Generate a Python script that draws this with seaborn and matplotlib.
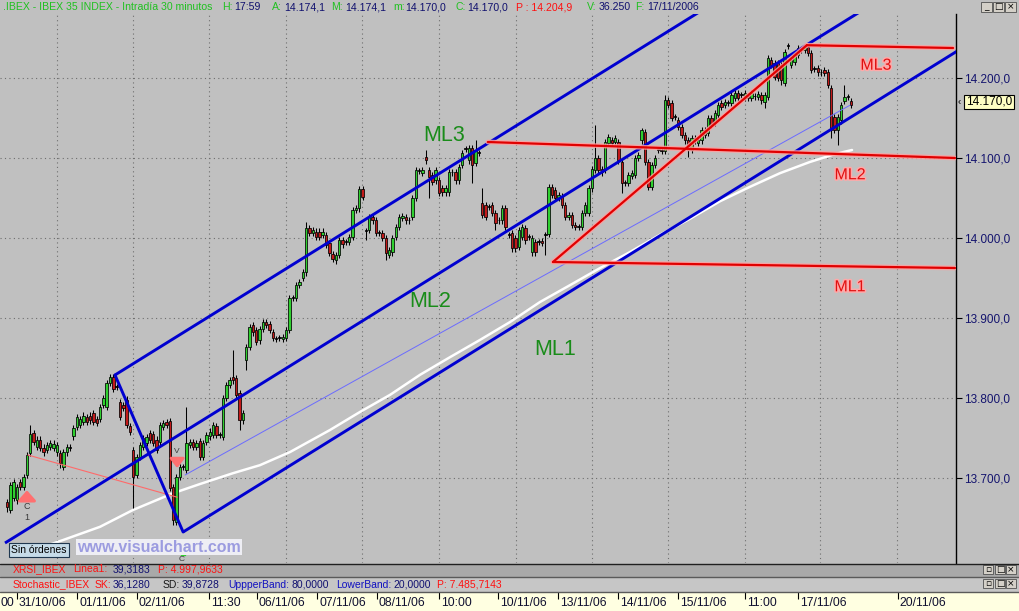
import numpy as np
import pandas as pd
import matplotlib
matplotlib.use("Agg")
import matplotlib.pyplot as plt
from matplotlib.patches import Rectangle
from matplotlib.lines import Line2D
import matplotlib.patheffects as pe
import seaborn as sns

# ---------------------------------------------------------------- data
opens = [
    13670, 13660, 13675, 13672, 13695, 13689, 13704, 13731, 13756, 13739,
    13748, 13738, 13735, 13739, 13738, 13732, 13731, 13714, 13732, 13738,
    13752, 13764, 13766, 13770, 13776, 13778, 13781, 13774, 13774, 13791,
    13789, 13819, 13826, 13814, 13795, 13791, 13798, 13765, 13735, 13704,
    13726, 13739, 13744, 13756, 13755, 13748, 13745, 13764, 13770, 13771,
    13689, 13645, 13701, 13714, 13710, 13741, 13745, 13739, 13746, 13726,
    13745, 13752, 13754, 13765, 13754, 13751, 13800, 13816, 13826, 13825,
    13806, 13772, 13847, 13864, 13891, 13885, 13872, 13886, 13895, 13892,
    13882, 13874, 13875, 13874, 13875, 13885, 13925, 13925, 13941, 13950,
    13957, 14012, 14006, 14008, 14008, 14004, 14004, 13994, 13980, 13972,
    13979, 13997, 13995, 13995, 14001, 14035, 14037, 14061, 14009, 14010,
    14026, 14022, 14006, 14006, 14000, 13979, 13982, 14001, 14014, 14025,
    14026, 14022, 14026, 14050, 14084, 14081, 14101, 14085, 14079, 14072,
    14072, 14062, 14057, 14057, 14082, 14082, 14072, 14091, 14111, 14097,
    14112, 14094, 14106, 14044, 14041, 14039, 14041, 14031, 14022, 14022,
    14037, 14004, 14006, 14000, 13989, 14001, 14012, 14001, 13982, 13995,
    13995, 13996, 14004, 14005, 14064, 14060, 14050, 14052, 14041, 14026,
    14029, 14016, 14014, 14014, 14031, 14031, 14062, 14085, 14100, 14086,
    14085, 14119, 14122, 14120, 14120, 14095, 14069, 14069, 14078, 14079,
    14100, 14122, 14132, 14095, 14064, 14091, 14110, 14109, 14109, 14172,
    14169, 14151, 14147, 14139, 14129, 14122, 14110, 14122, 14119, 14122,
    14129, 14131, 14150, 14144, 14154, 14169, 14166, 14169, 14169, 14175,
    14181, 14179, 14175, 14177, 14175, 14177, 14176, 14179, 14170, 14176,
    14222, 14219, 14219, 14216, 14194, 14240, 14216, 14220, 14229, 14235,
    14235, 14239, 14231, 14211, 14212, 14207, 14210, 14207, 14187, 14151,
    14135, 14147, 14171, 14176, 14171,
]
closes = [
    13664, 13691, 13695, 13689, 13689, 13701, 13729, 13755, 13745, 13748,
    13738, 13732, 13741, 13744, 13743, 13741, 13719, 13732, 13739, 13738,
    13762, 13776, 13774, 13778, 13770, 13772, 13770, 13769, 13789, 13800,
    13819, 13826, 13811, 13814, 13776, 13788, 13766, 13758, 13701, 13726,
    13741, 13750, 13751, 13748, 13744, 13735, 13766, 13769, 13766, 13688,
    13648, 13701, 13714, 13714, 13744, 13745, 13739, 13744, 13726, 13744,
    13754, 13758, 13766, 13754, 13754, 13800, 13816, 13822, 13822, 13804,
    13772, 13781, 13864, 13889, 13882, 13870, 13886, 13895, 13891, 13885,
    13875, 13874, 13875, 13876, 13885, 13925, 13925, 13941, 13945, 13957,
    14012, 14006, 14010, 14001, 14001, 14008, 13991, 13981, 13974, 13979,
    13997, 13992, 13995, 14001, 14035, 14037, 14061, 14051, 14009, 14026,
    14022, 14006, 14006, 14000, 13981, 13985, 14000, 14014, 14026, 14027,
    14022, 14022, 14050, 14085, 14084, 14085, 14097, 14076, 14070, 14085,
    14056, 14057, 14062, 14082, 14082, 14072, 14089, 14106, 14111, 14112,
    14091, 14110, 14106, 14029, 14026, 14039, 14031, 14019, 14022, 14037,
    14014, 14004, 13987, 13987, 14010, 14014, 13997, 14001, 14000, 13982,
    13995, 13994, 14004, 14064, 14054, 14050, 14054, 14041, 14026, 14029,
    14016, 14014, 14014, 14031, 14041, 14062, 14086, 14100, 14085, 14082,
    14120, 14126, 14119, 14125, 14097, 14069, 14069, 14079, 14081, 14100,
    14104, 14135, 14095, 14064, 14091, 14100, 14110, 14109, 14172, 14166,
    14150, 14151, 14139, 14129, 14122, 14110, 14125, 14125, 14122, 14135,
    14135, 14150, 14141, 14156, 14166, 14164, 14170, 14169, 14179, 14181,
    14175, 14179, 14181, 14175, 14181, 14177, 14180, 14172, 14179, 14225,
    14216, 14201, 14200, 14197, 14232, 14240, 14222, 14229, 14237, 14235,
    14239, 14231, 14210, 14211, 14207, 14207, 14206, 14191, 14135, 14135,
    14151, 14166, 14176, 14176, 14166,
]
WICK = 4  # typical wick beyond the body, in index points
wick_high = {7: 13766, 54: 13789, 68: 13860, 90: 14020, 126: 14110, 141: 14122,
             143: 14062, 177: 14141, 191: 14137, 198: 14179, 252: 14191}
wick_low = {0: 13657, 16: 13712, 38: 13662, 50: 13641, 70: 13760, 72: 13835,
            108: 13997, 114: 13972, 127: 14050, 140: 14069, 147: 14010,
            162: 13979, 185: 14056, 193: 14060, 205: 14101, 228: 14162,
            233: 14191, 248: 14125, 250: 14116}

# moving average (white line), bar index / value
ma_idx = [9.9, 16.9, 28.0, 37.9, 50.0, 58.1, 68.0, 76.1, 85.2, 97.2, 106.2,
          115.3, 124.3, 133.3, 142.3, 151.4, 160.4, 169.4, 178.5, 187.5, 196.5,
          205.5, 214.6, 223.6, 232.6, 241.6, 249.2, 254.3]
ma_val = [13612.5, 13622.5, 13639, 13660, 13681, 13692.5, 13706, 13716,
          13732.5, 13760, 13782.5, 13804, 13829, 13851, 13872.5, 13895, 13920,
          13941, 13962.5, 13982.5, 14004, 14024, 14046, 14064, 14081, 14095,
          14105, 14110]

# Andrews pitchfork pivots A, B, C
pitchfork_idx = [-0.6, 32.5, 53.0]
pitchfork_price = [13618.75, 13828.75, 13632.5]
# thin trend line and salmon line
trend_idx = [53.6, 253.7]
trend_price = [13703.75, 14166.0]
salmon_idx = [6.3, 51.2]
salmon_price = [13728.75, 13676.0]
# red fork
fork_idx = [164.3, 240.7]
fork_price = [13970.0, 14241.0]
ml1_idx, ml1_price = [164.3, 285.3], [13970.0, 13962.5]
ml2_idx, ml2_price = [144.7, 285.3], [14120.0, 14100.0]
ml3_idx, ml3_price = [240.7, 284.7], [14241.0, 14237.5]

price_ticks = [13700, 13800, 13900, 14000, 14100, 14200]
price_labels = ["13.700,0", "13.800,0", "13.900,0", "14.000,0", "14.100,0", "14.200,0"]
grid_pos = [15.05, 37.9, 60.8, 84.0, 106.8, 130.0, 153.2, 176.0, 198.9, 222.1, 244.7, 267.8]
date_pos = [-2.7, 3.0, 21.1, 39.1, 60.8, 75.2, 93.3, 111.3, 130.0, 147.8, 165.8,
            183.9, 201.9, 222.1, 238.0, 268.1]
date_labels = ["00", "31/10/06", "01/11/06", "02/11/06", "11:30", "06/11/06",
               "07/11/06", "08/11/06", "10:00", "10/11/06", "13/11/06",
               "14/11/06", "15/11/06", "11:00", "17/11/06", "20/11/06"]

# ---------------------------------------------------------------- style
sns.set_theme(style="white")
plt.rcParams['font.family'] = ['Liberation Sans', 'DejaVu Sans']

W, H, DPI = 1020, 611, 100
BG = '#c0c0c0'
fig = plt.figure(figsize=(W / DPI, H / DPI), dpi=DPI, facecolor=BG)


def fx(x):
    return x / W


def fy(y):
    return 1 - y / H


X0, DX = 7.0, 3.323          # pixel of first bar, pixels per bar
PLOT_R, TOP, BOT = 956, 14, 563

ax = fig.add_axes([0, fy(BOT), fx(PLOT_R), (BOT - TOP) / H])
ax.set_facecolor(BG)
ax.set_xlim(-X0 / DX, (PLOT_R - X0) / DX)
ax.set_ylim(13593.75, 14280)

# ---------------------------------------------------------------- candles
o = np.array(opens, float)
c = np.array(closes, float)
n = len(c)
idx = np.arange(n)
hi = np.maximum(o, c) + WICK
lo = np.minimum(o, c) - WICK
for k, v in wick_high.items():
    hi[k] = v
for k, v in wick_low.items():
    lo[k] = v
colors = np.where(c > o, '#2fcf2f', np.where(c < o, '#c21a1a', '#000000'))
bottom = np.minimum(o, c)
height = np.maximum(np.abs(c - o), 0.9)

ax.vlines(idx, lo, hi, color='black', lw=0.75, zorder=3)
ax.bar(idx, height, bottom=bottom, width=0.72, color=colors,
       edgecolor='black', linewidth=0.55, zorder=4)

# moving average
ma_df = pd.DataFrame({'i': ma_idx, 'v': ma_val})
sns.lineplot(data=ma_df, x='i', y='v', ax=ax, color='white', lw=1.8,
             sort=False, estimator=None, zorder=2.5)
ax.set_xlabel('')
ax.set_ylabel('')

# ---------------------------------------------------------------- pitchfork
BLUE = '#0000d0'
A = (pitchfork_idx[0], pitchfork_price[0])
B = (pitchfork_idx[1], pitchfork_price[1])
C = (pitchfork_idx[2], pitchfork_price[2])
M = ((B[0] + C[0]) / 2, (B[1] + C[1]) / 2)
k = (M[1] - A[1]) / (M[0] - A[0])
EXT = 300
for p in (A, B, C):
    ax.plot([p[0], EXT], [p[1], p[1] + k * (EXT - p[0])], color=BLUE,
            lw=2.1, zorder=6, solid_capstyle='butt')
ax.plot([B[0], C[0]], [B[1], C[1]], color=BLUE, lw=2.1, zorder=6)
ax.plot(trend_idx, trend_price, color='#6b6bff', lw=0.7, zorder=5)
ax.plot(salmon_idx, salmon_price, color='#ff6a6a', lw=0.8, zorder=5)


def red_line(xs, ys):
    ax.plot(xs, ys, color='#ff9e9e', lw=3.4, alpha=0.85, zorder=6,
            solid_capstyle='round')
    ax.plot(xs, ys, color='#e00000', lw=1.6, zorder=6.1)


red_line(fork_idx, fork_price)
red_line(ml1_idx, ml1_price)
red_line(ml2_idx, ml2_price)
red_line(ml3_idx, ml3_price)

# labels
GREEN_T = '#198c19'
for (xi, yp, t) in [(131.5, 14127.5, "ML3"), (127.3, 13920, "ML2"), (164.9, 13861, "ML1")]:
    ax.text(xi, yp, t, color=GREEN_T, fontsize=15.5, ha='center', va='center', zorder=8)
for (xi, yp, t) in [(261.5, 14216, "ML3"), (253.7, 14079, "ML2"), (253.7, 13939, "ML1")]:
    ax.text(xi, yp, t, color='#e01010', fontsize=11.5, ha='center', va='center', zorder=8,
            path_effects=[pe.withStroke(linewidth=2.2, foreground='#ffa8a8')])

# small order markers
ax.annotate('', xy=(6.0, 13688), xytext=(6.0, 13672),
            arrowprops=dict(arrowstyle='-|>,head_width=0.45,head_length=0.5',
                            color='#ff7070', lw=2.2, mutation_scale=12), zorder=7)
ax.text(6.0, 13664, "C", color='#3a3a3a', fontsize=6.5, ha='center', va='center', zorder=7)
ax.text(6.0, 13650, "1", color='#3a3a3a', fontsize=6.5, ha='center', va='center', zorder=7)
ax.text(51.2, 13733, "V", color='#3a3a3a', fontsize=6, ha='center', va='center', zorder=7)
ax.annotate('', xy=(51.2, 13709), xytext=(51.2, 13726),
            arrowprops=dict(arrowstyle='-|>,head_width=0.4,head_length=0.5',
                            color='#ff7070', lw=2.0, mutation_scale=11), zorder=7)
ax.plot([52.9], [13606], marker='s', ms=2.5, color='#30d030', zorder=7)
ax.text(52.7, 13598, "C", color='#3a3a3a', fontsize=6, ha='center', va='center', zorder=7)

# ---------------------------------------------------------------- axes cosmetics
ax.set_xticks(grid_pos)
ax.tick_params(axis='x', length=0, labelbottom=False)
ax.set_yticks(price_ticks)
ax.set_yticklabels(price_labels)
ax.yaxis.tick_right()
ax.tick_params(axis='y', direction='out', length=4, width=0.8, color='black',
               labelcolor='#14146e', labelsize=8.5, pad=1.5, right=True, left=False)
ax.grid(True, color='#6e6e6e', lw=0.8, ls=(0, (1, 3)))
ax.set_axisbelow(True)
for s in ('left', 'top', 'bottom'):
    ax.spines[s].set_visible(False)
ax.spines['right'].set_color('black')
ax.spines['right'].set_linewidth(1.0)

# price tag
fig.text(fx(989), fy(102), "14.170,0", ha='center', va='center', fontsize=8.5,
         color='black', bbox=dict(boxstyle='square,pad=0.12', fc='#ffffc4', ec='black', lw=0.8))
fig.text(fx(959.5), fy(102), "‹", ha='center', va='center', fontsize=7, color='black')

# ---------------------------------------------------------------- title bar
G, N, R = '#20c020', '#10106e', '#ff1010'
title_parts = [(3, ".IBEX - IBEX 35 INDEX - Intradía 30 minutos", G),
               (222, "H:", G), (234, "17:59", N),
               (272, "A:", G), (284, "14.174,1", N),
               (331, "M:", G), (345, "14.174,1", N),
               (393, "m:", G), (405, "14.170,0", N),
               (455, "C:", G), (467, "14.170,0", N),
               (516, "P : 14.204,9", R),
               (587, "V:", G), (599, "36.250", N),
               (635, "F:", G), (647, "17/11/2006", N)]
for x, t, col in title_parts:
    fig.text(fx(x), fy(7.5), t, color=col, fontsize=7.6, ha='left', va='center')


def button(x, y, w, h, sym):
    fig.add_artist(Rectangle((fx(x), fy(y + h)), w / W, h / H, transform=fig.transFigure,
                             fc='#d4d0c8', ec='#505050', lw=0.6))
    fig.text(fx(x + w / 2), fy(y + h / 2), sym, ha='center', va='center',
             fontsize=6.5, color='black', family=['DejaVu Sans'])


for bx, sym in [(981, "_"), (993, "□"), (1005, "×")]:
    button(bx, 2, 11, 10, sym)

# ---------------------------------------------------------------- watermark / status
fig.text(fx(11), fy(550), "Sin órdenes", ha='left', va='center', fontsize=7.5, color='black',
         bbox=dict(boxstyle='square,pad=0.2', fc='#c6dbe8', ec='#203850', lw=0.8), zorder=10)
fig.text(fx(77), fy(547), "www.visualchart.com", ha='left', va='center', fontsize=11.5,
         fontweight='bold', color='#9c9ce0',
         bbox=dict(boxstyle='square,pad=0.05', fc='#eeeef4', ec='none'), zorder=10)

# ---------------------------------------------------------------- indicator header bands
fig.add_artist(Rectangle((0, fy(576.5)), 1, 13 / H, transform=fig.transFigure, fc='#a9a9a9', ec='none'))
fig.add_artist(Rectangle((0, fy(591.5)), 1, 15 / H, transform=fig.transFigure, fc='#c6c6c6', ec='none'))
for yy, col in [(563.5, '#202020'), (576.5, '#5a5a5a'), (591.5, '#5a5a5a')]:
    fig.add_artist(Line2D([0, 1], [fy(yy)] * 2, transform=fig.transFigure, color=col, lw=1.0))

NB = '#101070'
BB = '#1010c0'
xrsi_parts = [(13, "XRSI_IBEX", R), (73, "Linea1:", R), (113, "39,3183", NB),
              (158, "P: 4.997,9633", R)]
for x, t, col in xrsi_parts:
    fig.text(fx(x), fy(569.5), t, color=col, fontsize=7.5, ha='left', va='center')
sto_parts = [(13, "Stochastic_IBEX", R), (95, "SK:", R), (113, "36,1280", NB),
             (163, "SD:", '#181818'), (182, "39,8728", NB),
             (228, "UppperBand:", BB), (292, "80,0000", NB),
             (336, "LowerBand:", BB), (393, "20,0000", NB),
             (437, "P: 7.485,7143", R)]
for x, t, col in sto_parts:
    fig.text(fx(x), fy(584.5), t, color=col, fontsize=7.5, ha='left', va='center')
for yb in (565, 579):
    for bx, sym in [(983, "▫"), (995, "□"), (1006, "×")]:
        button(bx, yb, 10, 9, sym)

# ---------------------------------------------------------------- date axis
axd = fig.add_axes([0, 0, 1, (H - 592) / H])
axd.set_facecolor('#ffffe1')
axd.set_xlim(-X0 / DX, (W - X0) / DX)
axd.set_ylim(0, 1)
axd.set_xticks([])
axd.set_yticks([])
for s in axd.spines.values():
    s.set_visible(False)
axd.vlines(date_pos, 0.62, 1.0, color='black', lw=0.8)
for p, t in zip(date_pos, date_labels):
    axd.text(p + 2.0 / DX, 0.4, t, ha='left', va='center', fontsize=8.7, color='#101030')

fig.savefig("out.png", dpi=DPI, facecolor=fig.get_facecolor())
